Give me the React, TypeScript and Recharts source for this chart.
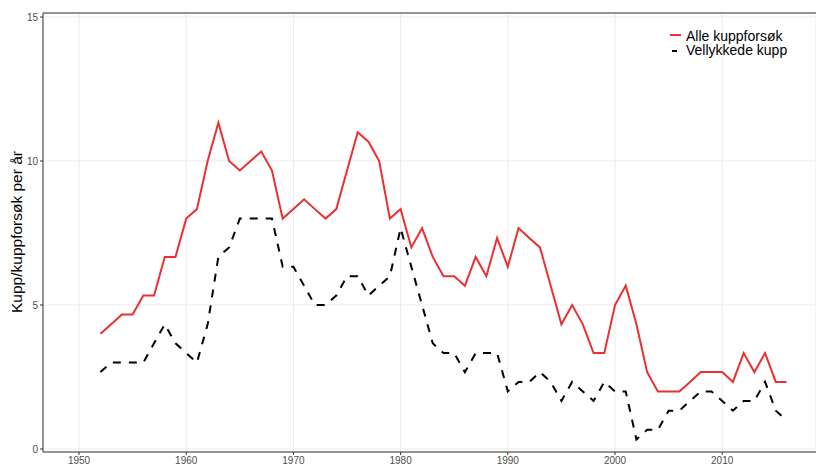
import { CartesianGrid, Legend, Line, LineChart, ReferenceLine, XAxis, YAxis } from 'recharts';

const years = [
  1952, 1953, 1954, 1955, 1956, 1957, 1958, 1959, 1960, 1961, 1962, 1963, 1964,
  1965, 1966, 1967, 1968, 1969, 1970, 1971, 1972, 1973, 1974, 1975, 1976, 1977,
  1978, 1979, 1980, 1981, 1982, 1983, 1984, 1985, 1986, 1987, 1988, 1989, 1990,
  1991, 1992, 1993, 1994, 1995, 1996, 1997, 1998, 1999, 2000, 2001, 2002, 2003,
  2004, 2005, 2006, 2007, 2008, 2009, 2010, 2011, 2012, 2013, 2014, 2015, 2016,
];

// 3-year rolling averages
const alleKuppforsok = [
  4.0, 4.33, 4.67, 4.67, 5.33, 5.33, 6.67, 6.67, 8.0, 8.33, 10.0, 11.33, 10.0,
  9.67, 10.0, 10.33, 9.67, 8.0, 8.33, 8.67, 8.33, 8.0, 8.33, 9.67, 11.0, 10.67,
  10.0, 8.0, 8.33, 7.0, 7.67, 6.67, 6.0, 6.0, 5.67, 6.67, 6.0, 7.33, 6.33,
  7.67, 7.33, 7.0, 5.67, 4.33, 5.0, 4.33, 3.33, 3.33, 5.0, 5.67, 4.33, 2.67,
  2.0, 2.0, 2.0, 2.33, 2.67, 2.67, 2.67, 2.33, 3.33, 2.67, 3.33, 2.33, 2.33,
];

const vellykkedeKupp = [
  2.67, 3.0, 3.0, 3.0, 3.0, 3.67, 4.33, 3.67, 3.33, 3.0, 4.33, 6.67, 7.0,
  8.0, 8.0, 8.0, 8.0, 6.33, 6.33, 5.67, 5.0, 5.0, 5.33, 6.0, 6.0, 5.33,
  5.67, 6.0, 7.67, 6.33, 5.0, 3.67, 3.33, 3.33, 2.67, 3.33, 3.33, 3.33, 2.0,
  2.33, 2.33, 2.67, 2.33, 1.67, 2.33, 2.0, 1.67, 2.33, 2.0, 2.0, 0.33, 0.67,
  0.67, 1.33, 1.33, 1.67, 2.0, 2.0, 1.67, 1.33, 1.67, 1.67, 2.33, 1.33, 1.0,
];

const xTicks = [1950, 1960, 1970, 1980, 1990, 2000, 2010];
const yTicks = [0, 5, 10, 15];
const xDomain = [1946.64, 2018.75];
const yDomain = [-0.104, 15.14];

const data = years.map((year, i) => ({
  year,
  alle: alleKuppforsok[i],
  vellykkede: vellykkedeKupp[i],
}));

const FONT = '"Liberation Sans", Arial, Helvetica, sans-serif';
const RED = '#ea3030';

function LegendBox() {
  return (
    <svg width={156} height={44} style={{ fontFamily: FONT, display: 'block' }}>
      <line x1={10} x2={21} y1={15} y2={15} stroke={RED} strokeWidth={2} />
      <text x={26} y={20.5} fontSize={14} fill="#000">
        Alle kuppforsøk
      </text>
      <line x1={12} x2={17} y1={31} y2={31} stroke="#000" strokeWidth={2} />
      <text x={26} y={35} fontSize={14} fill="#000">
        Vellykkede kupp
      </text>
    </svg>
  );
}

export default function App() {
  return (
    <div style={{ width: 816, height: 466, background: '#fff' }}>
      <style>{'body{margin:0}'}</style>
      <LineChart
        width={816}
        height={466}
        data={data}
        margin={{ top: 13, right: 0, bottom: 0, left: 0 }}
        style={{ fontFamily: FONT }}
      >
        <CartesianGrid stroke="#ebebeb" strokeWidth={1} />
        <XAxis
          dataKey="year"
          type="number"
          domain={xDomain}
          ticks={xTicks}
          allowDataOverflow
          height={14}
          tickSize={3}
          tick={{ fontSize: 10, fill: '#4d4d4d' }}
          tickLine={{ stroke: '#333' }}
          axisLine={{ stroke: '#333', strokeWidth: 1 }}
        />
        <YAxis
          type="number"
          domain={yDomain}
          ticks={yTicks}
          allowDataOverflow
          width={43}
          tickSize={3}
          tick={{ fontSize: 10, fill: '#4d4d4d' }}
          tickLine={{ stroke: '#333' }}
          axisLine={{ stroke: '#333', strokeWidth: 1 }}
          label={{
            content: () => (
              <text
                x={16}
                y={232}
                transform="rotate(-90 16 232)"
                textAnchor="middle"
                dominantBaseline="central"
                fontSize={15.5}
                fill="#000"
                fontFamily={FONT}
              >
                Kupp/kuppforsøk per år
              </text>
            ),
          }}
        />
        <ReferenceLine y={yDomain[1]} stroke="#333" strokeWidth={1.2} ifOverflow="visible" />
        <Legend
          layout="horizontal"
          verticalAlign="middle"
          align="center"
          wrapperStyle={{ top: 20, left: 660, width: 156, height: 44 }}
          content={() => <LegendBox />}
        />
        <Line
          type="linear"
          dataKey="alle"
          name="Alle kuppforsøk"
          stroke={RED}
          strokeWidth={2}
          dot={false}
          isAnimationActive={false}
        />
        <Line
          type="linear"
          dataKey="vellykkede"
          name="Vellykkede kupp"
          stroke="#000"
          strokeWidth={2}
          strokeDasharray="8 8"
          dot={false}
          isAnimationActive={false}
        />
      </LineChart>
    </div>
  );
}
